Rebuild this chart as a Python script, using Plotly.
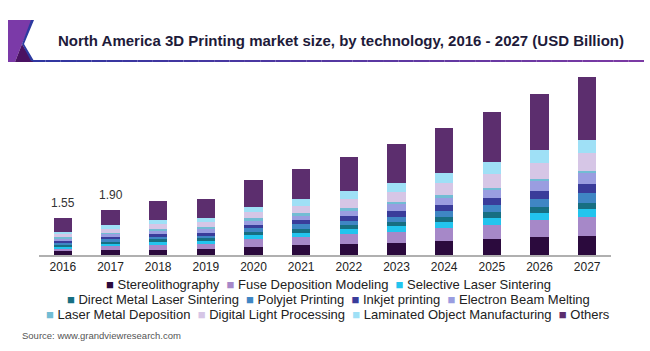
import plotly.graph_objects as go

years = [str(y) for y in range(2016, 2028)]

stereo  = [0.15, 0.19, 0.23, 0.24, 0.35, 0.40, 0.46, 0.52, 0.59, 0.66, 0.74, 0.81]
fdm     = [0.14, 0.18, 0.21, 0.22, 0.31, 0.36, 0.40, 0.46, 0.53, 0.60, 0.71, 0.77]
sls     = [0.08, 0.10, 0.12, 0.13, 0.17, 0.17, 0.21, 0.24, 0.26, 0.31, 0.32, 0.36]
dmls    = [0.07, 0.09, 0.10, 0.11, 0.14, 0.17, 0.17, 0.18, 0.20, 0.22, 0.25, 0.25]
polyjet = [0.07, 0.09, 0.10, 0.11, 0.15, 0.18, 0.20, 0.21, 0.25, 0.29, 0.32, 0.39]
inkjet  = [0.08, 0.10, 0.12, 0.13, 0.15, 0.18, 0.20, 0.25, 0.26, 0.31, 0.33, 0.38]
ebm     = [0.11, 0.14, 0.16, 0.17, 0.19, 0.20, 0.22, 0.28, 0.31, 0.35, 0.46, 0.46]
lmd     = [0.04, 0.05, 0.06, 0.06, 0.07, 0.08, 0.10, 0.08, 0.10, 0.07, 0.07, 0.10]
dlp     = [0.13, 0.16, 0.19, 0.20, 0.27, 0.31, 0.39, 0.42, 0.50, 0.60, 0.66, 0.74]
lom     = [0.11, 0.14, 0.16, 0.17, 0.22, 0.28, 0.32, 0.39, 0.42, 0.47, 0.53, 0.56]
others  = [0.57, 0.66, 0.82, 0.81, 1.12, 1.27, 1.45, 1.64, 1.88, 2.09, 2.37, 2.62]

series_names = ["Stereolithography", "Fuse Deposition Modeling", "Selective Laser Sintering",
                "Direct Metal Laser Sintering", "Polyjet Printing", "Inkjet printing",
                "Electron Beam Melting", "Laser Metal Deposition", "Digital Light Processing",
                "Laminated Object Manufacturing", "Others"]
series_values = [stereo, fdm, sls, dmls, polyjet, inkjet, ebm, lmd, dlp, lom, others]
series_colors = ["#2b0a3d", "#a688c8", "#22c4ee", "#176f82", "#3f86c4", "#3a3c9a",
                 "#9a9de0", "#72bcd4", "#d6c6e6", "#9fe0f6", "#5c2e6e"]

label_years = ["2016", "2017"]
label_values = [1.55, 1.90]

legend_rows = [[0, 1, 2], [3, 4, 5, 6], [7, 8, 9, 10]]

FONT = "Liberation Sans, Arial, sans-serif"
WIDTH, HEIGHT = 650, 351
L, R, T, B = 39, 39, 64, 96
PW, PH = WIDTH - L - R, HEIGHT - T - B


def px(x):
    return (x - L) / PW


def py(y):
    return (HEIGHT - B - y) / PH


fig = go.Figure()
for name, vals, col in zip(series_names, series_values, series_colors):
    fig.add_trace(go.Bar(x=years, y=vals, name=name, marker_color=col,
                         marker_line_width=0, showlegend=False))

for yr, v in zip(label_years, label_values):
    fig.add_annotation(x=years.index(yr), y=v, text=f"{v:.2f}", showarrow=False, yanchor="bottom",
                       yshift=6, font=dict(family=FONT, size=12, color="#333333"))

# manual legend rows
row_y = [284, 299, 314]
for row, ry in zip(legend_rows, row_y):
    parts = []
    for i in row:
        parts.append(f'<span style="color:{series_colors[i]};font-size:13px">■</span>&nbsp;{series_names[i]}')
    fig.add_annotation(xref="paper", yref="paper", x=px(328), y=py(ry), xanchor="center",
                       yanchor="middle", showarrow=False, text="&nbsp;&nbsp;".join(parts),
                       font=dict(family=FONT, size=13, color="#222222"))

fig.add_annotation(xref="paper", yref="paper", x=px(20), y=py(335), xanchor="left",
                   yanchor="middle", showarrow=False, text="Source: www.grandviewresearch.com",
                   font=dict(family=FONT, size=9.5, color="#555555"))

shapes = []
# gradient header line
n = 40
x0, x1 = 30, 644
c0, c1 = (0x30, 0x36, 0xa0), (0x7b, 0x3a, 0xa4)
for k in range(n):
    t = k / (n - 1)
    col = "rgb(%d,%d,%d)" % tuple(int(a + (b - a) * t) for a, b in zip(c0, c1))
    xa = x0 + (x1 - x0) * k / n
    xb = x0 + (x1 - x0) * (k + 1) / n
    shapes.append(dict(type="line", xref="paper", yref="paper", x0=px(xa), x1=px(xb),
                       y0=py(61), y1=py(61), line=dict(color=col, width=2)))


def path(pts):
    return "M " + " L ".join(f"{px(a)},{py(b)}" for a, b in pts) + " Z"


shapes.append(dict(type="path", xref="paper", yref="paper", line_width=0,
                   fillcolor="#7b3aa8", path=path([(8, 20), (33, 20), (22, 44), (15, 62), (8, 62)])))
shapes.append(dict(type="path", xref="paper", yref="paper", line_width=0,
                   fillcolor="#4a1262", path=path([(22, 44), (33, 62), (15, 62)])))
shapes.append(dict(type="path", xref="paper", yref="paper", line_width=0,
                   fillcolor="#2d3aa0", path=path([(31, 20), (34, 20), (24, 44), (34, 61), (31, 61), (22, 44)])))

fig.update_layout(
    width=WIDTH, height=HEIGHT,
    margin=dict(l=L, r=R, t=T, b=B, pad=0),
    paper_bgcolor="white", plot_bgcolor="white",
    barmode="stack", bargap=0.61,
    showlegend=False,
    shapes=shapes,
    title=dict(text="<b>North America 3D Printing market size, by technology, 2016 - 2027 (USD Billion)</b>",
               x=341 / WIDTH, xanchor="center", xref="container",
               y=1 - 41 / HEIGHT, yanchor="middle", yref="container",
               font=dict(family=FONT, size=15, color="#1e1b3a")),
    xaxis=dict(type="category", range=[-0.5, len(years) - 0.5], showline=True,
               linecolor="#b0b0b0", linewidth=1.5, ticks="", showgrid=False,
               tickfont=dict(family=FONT, size=12, color="#222222")),
    yaxis=dict(range=[0, 8], visible=False, showgrid=False),
)

fig.write_html("out.html")
